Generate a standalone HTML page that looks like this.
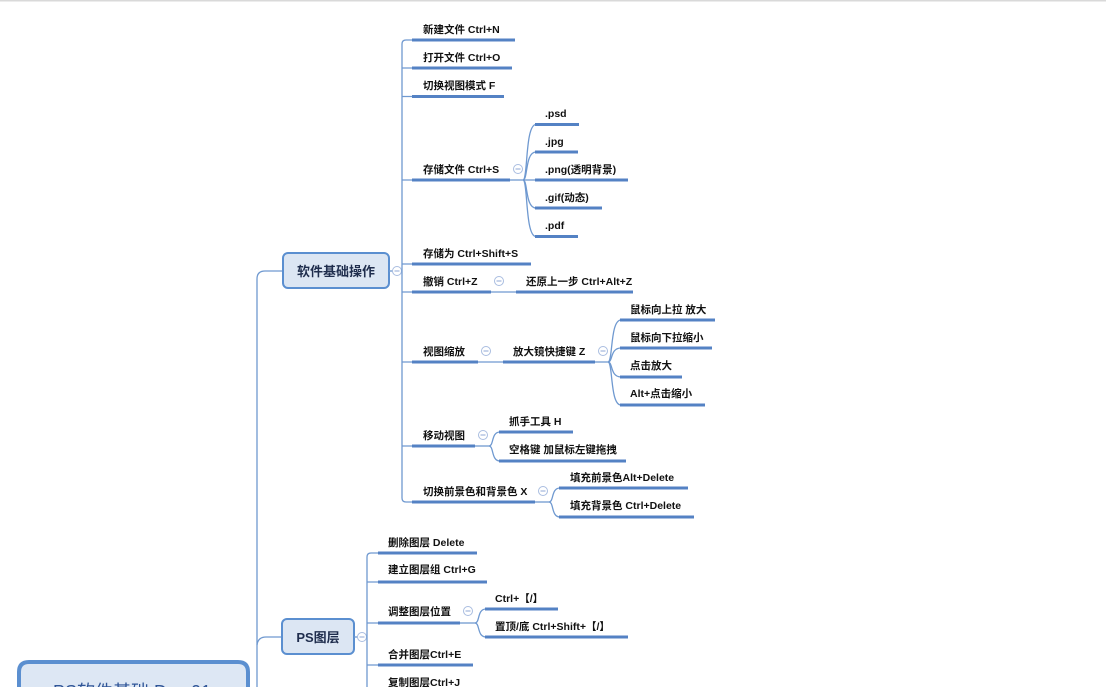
<!DOCTYPE html>
<html><head><meta charset="utf-8"><style>
html,body{margin:0;padding:0;background:#fff;width:1106px;height:687px;overflow:hidden}
svg{display:block}
.t{font-family:"Liberation Sans","Noto Sans CJK SC",sans-serif;font-size:10.5px;font-weight:bold;fill:#111}
.ul{stroke:#5482c4;stroke-width:3;fill:none}
.ln{stroke:#6f99d0;stroke-width:1.3;fill:none}
.c{fill:#fff;stroke:#a9bde0;stroke-width:1}
.m{stroke:#8fa7d4;stroke-width:1}
</style></head><body>
<svg width="1106" height="687" viewBox="0 0 1106 687" xmlns="http://www.w3.org/2000/svg">
<rect x="0" y="0" width="1106" height="1.5" fill="#d9d9d9"/>

<!-- main vertical -->
<path class="ln" d="M283,271 L265,271 Q257,271 257,279 L257,687"/>
<path class="ln" d="M282,637 L266,637 Q258,637 257,645"/>

<!-- 软件基础操作 box -->
<rect x="283" y="253" width="106" height="35" rx="5" fill="#dce6f3" stroke="#5b8fd0" stroke-width="2"/>
<text x="336" y="276" text-anchor="middle" style="font-family:'Liberation Sans','Noto Sans CJK SC',sans-serif;font-size:13px;font-weight:bold;fill:#1f2d4d">软件基础操作</text>
<path class="ln" d="M389,271 L402,271"/>
<circle class="c" cx="397" cy="271" r="4.5"/><line class="m" x1="394.5" y1="271" x2="399.5" y2="271"/>

<!-- level vertical A -->
<path class="ln" d="M412,40 L406,40 Q402,40 402,44 L402,498 Q402,502 406,502 L412,502"/>
<path class="ln" d="M402,68 L412,68 M402,96.5 L412,96.5 M402,180 L412,180 M402,264 L412,264 M402,292 L412,292 M402,362 L412,362 M402,446 L412,446"/>

<!-- A1-A3 -->
<text class="t" x="423" y="33">新建文件 Ctrl+N</text><line class="ul" x1="412" y1="40" x2="515" y2="40"/>
<text class="t" x="423" y="61">打开文件 Ctrl+O</text><line class="ul" x1="412" y1="68" x2="512" y2="68"/>
<text class="t" x="423" y="89">切换视图模式 F</text><line class="ul" x1="412" y1="96.5" x2="504" y2="96.5"/>

<!-- A4 存储文件 -->
<text class="t" x="423" y="173">存储文件 Ctrl+S</text><line class="ul" x1="412" y1="180" x2="510" y2="180"/>
<circle class="c" cx="518" cy="169" r="4.5"/><line class="m" x1="515.5" y1="169" x2="520.5" y2="169"/>
<path class="ln" d="M510,180 L523,180"/>
<path class="ln" d="M523,180 C528,180 525,124.5 536,124.5"/>
<path class="ln" d="M523,180 C528,180 525,152 536,152"/>
<path class="ln" d="M523,180 L536,180"/>
<path class="ln" d="M523,180 C528,180 525,208 536,208"/>
<path class="ln" d="M523,180 C528,180 525,236.5 536,236.5"/>
<text class="t" x="545" y="117">.psd</text><line class="ul" x1="535" y1="124.5" x2="579" y2="124.5"/>
<text class="t" x="545" y="145">.jpg</text><line class="ul" x1="535" y1="152" x2="578" y2="152"/>
<text class="t" x="545" y="173">.png(透明背景)</text><line class="ul" x1="535" y1="180" x2="628" y2="180"/>
<text class="t" x="545" y="201">.gif(动态)</text><line class="ul" x1="535" y1="208" x2="602" y2="208"/>
<text class="t" x="545" y="229">.pdf</text><line class="ul" x1="535" y1="236.5" x2="578" y2="236.5"/>

<!-- A5 -->
<text class="t" x="423" y="257">存储为 Ctrl+Shift+S</text><line class="ul" x1="412" y1="264" x2="531" y2="264"/>

<!-- A6 撤销 -->
<text class="t" x="423" y="285">撤销 Ctrl+Z</text><line class="ul" x1="412" y1="292" x2="491" y2="292"/>
<circle class="c" cx="499" cy="281" r="4.5"/><line class="m" x1="496.5" y1="281" x2="501.5" y2="281"/>
<path class="ln" d="M491,292 L516,292"/>
<text class="t" x="526" y="285">还原上一步 Ctrl+Alt+Z</text><line class="ul" x1="516" y1="292" x2="633" y2="292"/>

<!-- A7 视图缩放 -->
<text class="t" x="423" y="355">视图缩放</text><line class="ul" x1="412" y1="362" x2="478" y2="362"/>
<circle class="c" cx="486" cy="351" r="4.5"/><line class="m" x1="483.5" y1="351" x2="488.5" y2="351"/>
<path class="ln" d="M478,362 L503,362"/>
<text class="t" x="513" y="355">放大镜快捷键 Z</text><line class="ul" x1="503" y1="362" x2="595" y2="362"/>
<circle class="c" cx="603" cy="351" r="4.5"/><line class="m" x1="600.5" y1="351" x2="605.5" y2="351"/>
<path class="ln" d="M595,362 L608,362"/>
<path class="ln" d="M608,362 C613,362 610,320 621,320"/>
<path class="ln" d="M608,362 C613,362 610,348 621,348"/>
<path class="ln" d="M608,362 C613,362 610,377 621,377"/>
<path class="ln" d="M608,362 C613,362 610,405 621,405"/>
<text class="t" x="630" y="313">鼠标向上拉 放大</text><line class="ul" x1="620" y1="320" x2="715" y2="320"/>
<text class="t" x="630" y="341">鼠标向下拉缩小</text><line class="ul" x1="620" y1="348" x2="712" y2="348"/>
<text class="t" x="630" y="369">点击放大</text><line class="ul" x1="620" y1="377" x2="682" y2="377"/>
<text class="t" x="630" y="397">Alt+点击缩小</text><line class="ul" x1="620" y1="405" x2="705" y2="405"/>

<!-- A8 移动视图 -->
<text class="t" x="423" y="439">移动视图</text><line class="ul" x1="412" y1="446" x2="475" y2="446"/>
<circle class="c" cx="483" cy="435" r="4.5"/><line class="m" x1="480.5" y1="435" x2="485.5" y2="435"/>
<path class="ln" d="M475,446 L489,446"/>
<path class="ln" d="M489,446 C494,446 491,432 500,432"/>
<path class="ln" d="M489,446 C494,446 491,461 500,461"/>
<text class="t" x="509" y="425">抓手工具 H</text><line class="ul" x1="499" y1="432" x2="573" y2="432"/>
<text class="t" x="509" y="453">空格键 加鼠标左键拖拽</text><line class="ul" x1="499" y1="461" x2="626" y2="461"/>

<!-- A9 -->
<text class="t" x="423" y="495">切换前景色和背景色 X</text><line class="ul" x1="412" y1="502" x2="535" y2="502"/>
<circle class="c" cx="543" cy="491" r="4.5"/><line class="m" x1="540.5" y1="491" x2="545.5" y2="491"/>
<path class="ln" d="M535,502 L549,502"/>
<path class="ln" d="M549,502 C554,502 551,488 560,488"/>
<path class="ln" d="M549,502 C554,502 551,517 560,517"/>
<text class="t" x="570" y="481">填充前景色Alt+Delete</text><line class="ul" x1="559" y1="488" x2="688" y2="488"/>
<text class="t" x="570" y="509">填充背景色 Ctrl+Delete</text><line class="ul" x1="559" y1="517" x2="694" y2="517"/>

<!-- PS图层 box -->
<rect x="282" y="619" width="72" height="35" rx="5" fill="#dce6f3" stroke="#5b8fd0" stroke-width="2"/>
<text x="318" y="642" text-anchor="middle" style="font-family:'Liberation Sans','Noto Sans CJK SC',sans-serif;font-size:13px;font-weight:bold;fill:#1f2d4d">PS图层</text>
<path class="ln" d="M354,637 L367,637"/>
<circle class="c" cx="362" cy="637" r="4.5"/><line class="m" x1="359.5" y1="637" x2="364.5" y2="637"/>

<path class="ln" d="M378,553 L371,553 Q367,553 367,557 L367,687"/>
<path class="ln" d="M367,582 L378,582 M367,623 L378,623 M367,665 L378,665"/>

<text class="t" x="388" y="546">删除图层 Delete</text><line class="ul" x1="378" y1="553" x2="477" y2="553"/>
<text class="t" x="388" y="573">建立图层组 Ctrl+G</text><line class="ul" x1="378" y1="582" x2="487" y2="582"/>
<text class="t" x="388" y="615">调整图层位置</text><line class="ul" x1="378" y1="623" x2="460" y2="623"/>
<circle class="c" cx="468" cy="611" r="4.5"/><line class="m" x1="465.5" y1="611" x2="470.5" y2="611"/>
<path class="ln" d="M460,623 L475,623"/>
<path class="ln" d="M475,623 C480,623 477,609 486,609"/>
<path class="ln" d="M475,623 C480,623 477,637 486,637"/>
<text class="t" x="495" y="602">Ctrl+【/】</text><line class="ul" x1="485" y1="609" x2="558" y2="609"/>
<text class="t" x="495" y="630">置顶/底 Ctrl+Shift+【/】</text><line class="ul" x1="485" y1="637" x2="628" y2="637"/>
<text class="t" x="388" y="658">合并图层Ctrl+E</text><line class="ul" x1="378" y1="665" x2="473" y2="665"/>
<text class="t" x="388" y="686">复制图层Ctrl+J</text>

<!-- root -->
<path d="M19,700 L19,672 Q19,662 29,662 L238,662 Q248,662 248,672 L248,700" fill="#dde7f4" stroke="#5b8fd0" stroke-width="4"/>
<text x="132" y="698" text-anchor="middle" style="font-family:'Liberation Sans','Noto Sans CJK SC',sans-serif;font-size:18px;fill:#2f5597">PS软件基础 Day 01</text>
</svg>
</body></html>
